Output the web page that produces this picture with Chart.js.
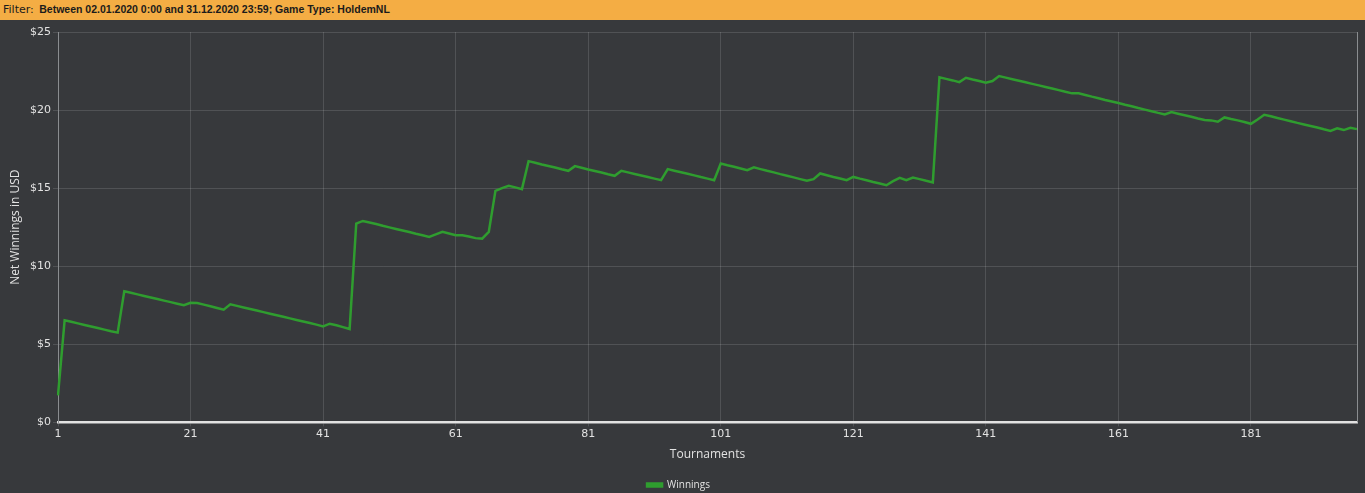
<!DOCTYPE html>
<html>
<head>
<meta charset="utf-8">
<script src="https://cdn.jsdelivr.net/npm/chart.js@4.4.1/dist/chart.umd.min.js"></script>
<style>
html,body{margin:0;padding:0;background:#37393c;width:1365px;height:493px;overflow:hidden}
#hdr{position:absolute;left:0;top:0;width:1365px;height:20px;background:#f4ad44;color:#1b1b1b;font:11px "DejaVu Sans",sans-serif;line-height:20px;white-space:nowrap}
#hdr span{padding-left:3px}
#hdr b{font:bold 10.5px "Liberation Sans",Arial,sans-serif;margin-left:2px}
#wrap{position:absolute;left:0;top:20px;width:1365px;height:473px;overflow:hidden}
</style>
</head>
<body>
<div id="hdr"><span>Filter: <b>Between 02.01.2020 0:00 and 31.12.2020 23:59; Game Type: HoldemNL</b></span></div>
<div id="wrap"><canvas id="c" width="1365" height="480"></canvas></div>
<script>
// Net winnings (USD) after each tournament
const winnings = [
  1.73, 6.54, 6.44, 6.34, 6.24, 6.14, 6.04, 5.94, 5.84, 5.75,
  8.40, 8.30, 8.20, 8.10, 8.00, 7.90, 7.80, 7.70, 7.60, 7.50,
  7.66, 7.64, 7.54, 7.44, 7.33, 7.22, 7.56, 7.46, 7.36, 7.26,
  7.16, 7.06, 6.96, 6.86, 6.76, 6.66, 6.56, 6.46, 6.36, 6.26,
  6.15, 6.32, 6.22, 6.10, 5.98, 12.73, 12.90, 12.80, 12.70, 12.59,
  12.49, 12.39, 12.29, 12.19, 12.08, 11.98, 11.88, 12.04, 12.20, 12.10,
  11.99, 11.99, 11.90, 11.80, 11.77, 12.20, 14.83, 15.00, 15.15, 15.05,
  14.94, 16.73, 16.63, 16.52, 16.42, 16.32, 16.21, 16.11, 16.41, 16.31,
  16.20, 16.10, 16.00, 15.89, 15.79, 16.11, 16.01, 15.91, 15.81, 15.71,
  15.61, 15.51, 16.22, 16.12, 16.02, 15.92, 15.82, 15.71, 15.61, 15.51,
  16.58, 16.47, 16.37, 16.26, 16.15, 16.33, 16.22, 16.11, 16.01, 15.90,
  15.80, 15.69, 15.58, 15.47, 15.58, 15.94, 15.83, 15.72, 15.62, 15.51,
  15.72, 15.61, 15.51, 15.40, 15.30, 15.19, 15.45, 15.66, 15.51, 15.68,
  15.58, 15.47, 15.37, 22.10, 22.00, 21.90, 21.79, 22.07, 21.96, 21.86,
  21.75, 21.86, 22.18, 22.08, 21.98, 21.88, 21.78, 21.68, 21.58, 21.48,
  21.38, 21.28, 21.17, 21.07, 21.07, 20.97, 20.86, 20.76, 20.65, 20.55,
  20.45, 20.34, 20.24, 20.13, 20.03, 19.93, 19.82, 19.72, 19.87, 19.77,
  19.67, 19.57, 19.46, 19.36, 19.34, 19.25, 19.53, 19.43, 19.34, 19.24,
  19.12, 19.40, 19.70, 19.60, 19.49, 19.39, 19.29, 19.18, 19.08, 18.98,
  18.88, 18.77, 18.67, 18.83, 18.72, 18.87, 18.78
];
// Tournament numbers (categories)
const tournaments = winnings.map((_, i) => String(i + 1));
// Tick labels shown on the x axis
const xTickLabels = ['1', '21', '41', '61', '81', '101', '121', '141', '161', '181'];
// Y axis tick values
const yTicks = [0, 5, 10, 15, 20, 25];

const GRID = 'rgba(255,255,255,0.13)';
const TXT = '#e2e2e2';
const tickFont = {family: 'DejaVu Sans', size: 11};
const titleFont = {family: 'Open Sans', size: 12};

const frame = {
  id: 'frame',
  afterDatasetsDraw(chart) {
    const {ctx, chartArea: a} = chart;
    ctx.save();
    ctx.strokeStyle = '#8a8d90';
    ctx.lineWidth = 1;
    ctx.beginPath();
    ctx.moveTo(Math.round(a.right) + 0.5, a.top);
    ctx.lineTo(Math.round(a.right) + 0.5, a.bottom);
    ctx.stroke();
    ctx.restore();
  }
};

new Chart(document.getElementById('c'), {
  type: 'line',
  data: {
    labels: tournaments,
    datasets: [{
      label: 'Winnings',
      data: winnings,
      borderColor: '#2f9d2f',
      backgroundColor: '#2f9d2f',
      borderWidth: 2.5,
      pointRadius: 0,
      pointHoverRadius: 0,
      tension: 0,
      fill: false
    }]
  },
  options: {
    responsive: false,
    animation: false,
    events: [],
    layout: {padding: {top: 12, right: 8, left: 0, bottom: 0}},
    plugins: {
      tooltip: {enabled: false},
      legend: {
        position: 'bottom',
        labels: {
          color: TXT,
          font: {family: 'Open Sans', size: 10},
          boxWidth: 15,
          boxHeight: 3,
          padding: 8
        }
      }
    },
    scales: {
      x: {
        type: 'category',
        offset: false,
        afterBuildTicks(axis) {
          axis.ticks = axis.ticks.filter(t => xTickLabels.includes(tournaments[t.value]));
        },
        ticks: {
          autoSkip: false,
          maxRotation: 0,
          color: TXT,
          font: tickFont,
          padding: 1
        },
        grid: {color: GRID, tickLength: 4, tickColor: GRID},
        border: {color: '#e2e2e2', width: 2.5},
        title: {display: true, text: 'Tournaments', color: TXT, font: titleFont, padding: {top: 6, bottom: 10}}
      },
      y: {
        min: 0,
        max: 25,
        afterBuildTicks(axis) {
          axis.ticks = yTicks.map(v => ({value: v}));
        },
        afterFit(scale) { scale.width = 58; },
        ticks: {
          color: TXT,
          font: tickFont,
          padding: 2,
          callback: v => '$' + v
        },
        grid: {color: GRID, tickLength: 5, tickColor: GRID},
        border: {color: '#8a8d90', width: 1},
        title: {display: true, text: 'Net Winnings in USD', color: TXT, font: titleFont, padding: {top: 8, bottom: 0}}
      }
    }
  },
  plugins: [frame]
});
</script>
</body>
</html>
